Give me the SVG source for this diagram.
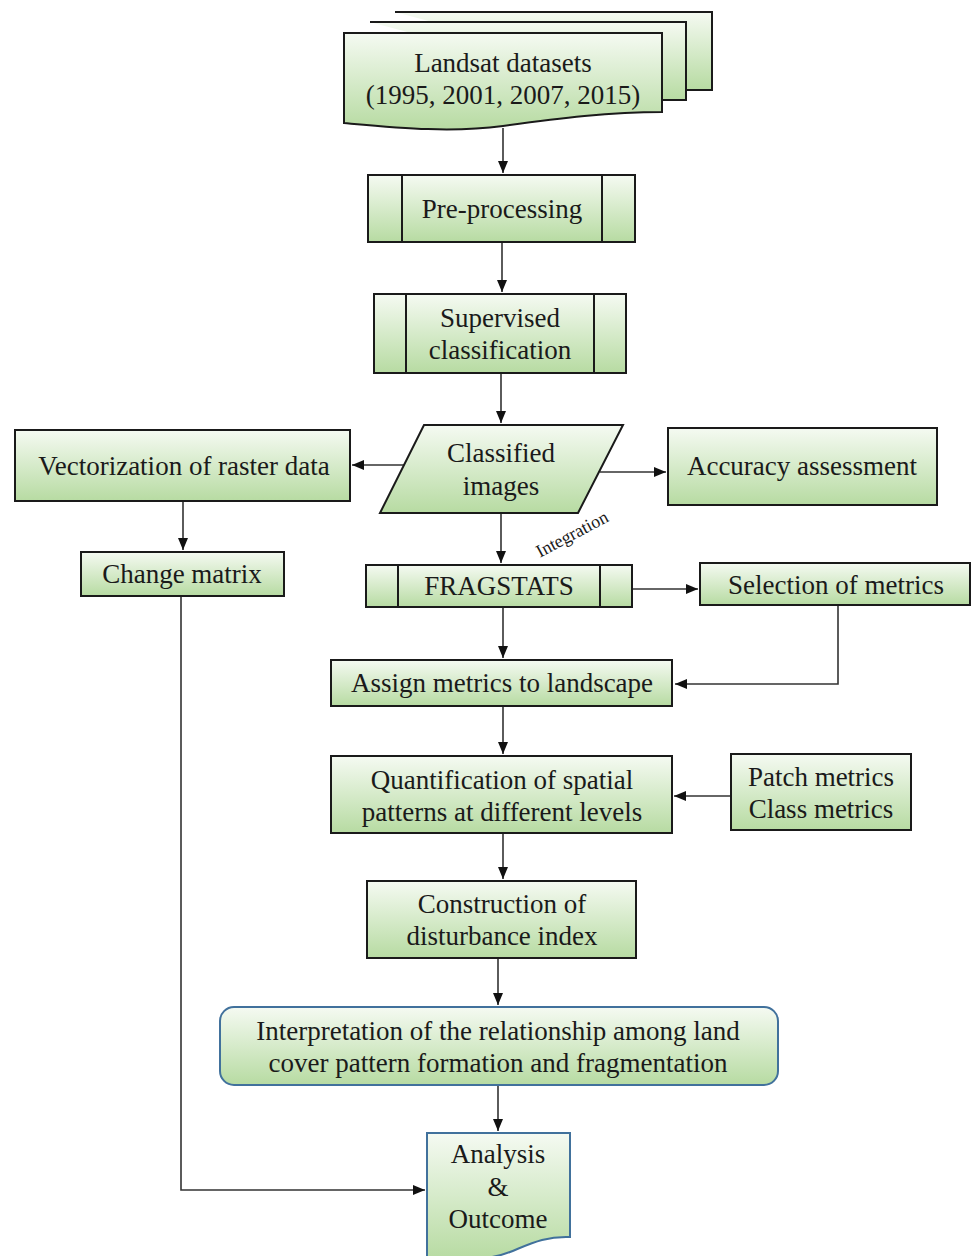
<svg xmlns="http://www.w3.org/2000/svg" width="972" height="1256" viewBox="0 0 972 1256">
<defs>
<linearGradient id="g" x1="0" y1="0" x2="0" y2="1">
<stop offset="0" stop-color="#f5faf2"/>
<stop offset="1" stop-color="#b7dba2"/>
</linearGradient>
<marker id="ah" viewBox="0 0 12 10" refX="12" refY="5" markerWidth="12" markerHeight="10" markerUnits="userSpaceOnUse" orient="auto">
<path d="M0,0 L12,5 L0,10 Z" fill="#111"/>
</marker>
<style>
.b{fill:url(#g);stroke:#1a1a1a;stroke-width:2}
.bb{fill:url(#g);stroke:#41719c;stroke-width:2}
.ln{fill:none;stroke:#1a1a1a;stroke-width:2}
.ca{fill:none;stroke:#333;stroke-width:1.6;marker-end:url(#ah)}
text{font-family:'Liberation Serif','Times New Roman',serif;font-size:27px;fill:#1a1a1a;text-anchor:middle}
text.sm{font-size:18px}
</style>
</defs>
<rect width="972" height="1256" fill="#fff"/>

<g id="connectors">
<path class="ca" d="M503,128 V173"/>
<path class="ca" d="M502,243 V292"/>
<path class="ca" d="M501,374 V423"/>
<path class="ca" d="M405,465 H352"/>
<path class="ca" d="M600,472 H666"/>
<path class="ca" d="M183,502 V550"/>
<path class="ca" d="M501,514 V563"/>
<path class="ca" d="M633,589 H698"/>
<path class="ca" d="M838,606 V684 H675"/>
<path class="ca" d="M503,608 V658"/>
<path class="ca" d="M503,707 V754"/>
<path class="ca" d="M730,796 H674"/>
<path class="ca" d="M503,834 V879"/>
<path class="ca" d="M498,959 V1005"/>
<path class="ca" d="M498,1086 V1131"/>
<path class="ca" d="M181,597 V1190 H425"/>
</g>

<g id="landsat">
<path class="b" d="M395,12 H712 V90 H686"/>
<path class="b" d="M370,22 H686 V100 H662"/>
<path class="b" d="M344,33 H662 V112 C610,112 560,118 503,126 C450,133 400,128 344,123 Z"/>
<text x="503" y="72">Landsat datasets</text>
<text x="503" y="104">(1995, 2001, 2007, 2015)</text>
</g>

<g id="preprocessing">
<rect class="b" x="368" y="175" width="267" height="67"/>
<path class="ln" d="M402,175 V242 M602,175 V242"/>
<text x="502" y="218">Pre-processing</text>
</g>

<g id="supervised">
<rect class="b" x="374" y="294" width="252" height="79"/>
<path class="ln" d="M406,294 V373 M594,294 V373"/>
<text x="500" y="327">Supervised</text>
<text x="500" y="359">classification</text>
</g>

<g id="classified">
<path class="b" d="M424,425 H623 L578,513 H380 Z"/>
<text x="501" y="462">Classified</text>
<text x="501" y="495">images</text>
</g>

<g id="vectorization">
<rect class="b" x="15" y="430" width="335" height="71"/>
<text x="184" y="475">Vectorization of raster data</text>
</g>

<g id="accuracy">
<rect class="b" x="668" y="428" width="269" height="77"/>
<text x="802" y="475">Accuracy assessment</text>
</g>

<g id="changematrix">
<rect class="b" x="81" y="552" width="203" height="44"/>
<text x="182" y="583">Change matrix</text>
</g>

<g id="integration-label">
<text class="sm" x="572" y="540" transform="rotate(-28 572 534)">Integration</text>
</g>

<g id="fragstats">
<rect class="b" x="366" y="565" width="266" height="42"/>
<path class="ln" d="M398,565 V607 M600,565 V607"/>
<text x="499" y="595">FRAGSTATS</text>
</g>

<g id="selection">
<rect class="b" x="700" y="563" width="270" height="42"/>
<text x="836" y="594">Selection of metrics</text>
</g>

<g id="assign">
<rect class="b" x="331" y="660" width="341" height="46"/>
<text x="502" y="692">Assign metrics to landscape</text>
</g>

<g id="quantification">
<rect class="b" x="331" y="756" width="341" height="77"/>
<text x="502" y="789">Quantification of spatial</text>
<text x="502" y="821">patterns at different levels</text>
</g>

<g id="patch">
<rect class="b" x="731" y="754" width="180" height="76"/>
<text x="821" y="786">Patch metrics</text>
<text x="821" y="818">Class metrics</text>
</g>

<g id="construction">
<rect class="b" x="367" y="881" width="269" height="77"/>
<text x="502" y="913">Construction of</text>
<text x="502" y="945">disturbance index</text>
</g>

<g id="interpretation">
<rect class="bb" x="220" y="1007" width="558" height="78" rx="14" ry="14"/>
<text x="498" y="1040">Interpretation of the relationship among land</text>
<text x="498" y="1072">cover pattern formation and fragmentation</text>
</g>

<g id="analysis">
<path class="bb" d="M427,1133 H570 V1237 C545,1236 530,1244 510,1252 C495,1258 470,1262 427,1258 Z"/>
<text x="498" y="1163">Analysis</text>
<text x="498" y="1196">&amp;</text>
<text x="498" y="1228">Outcome</text>
</g>
</svg>
